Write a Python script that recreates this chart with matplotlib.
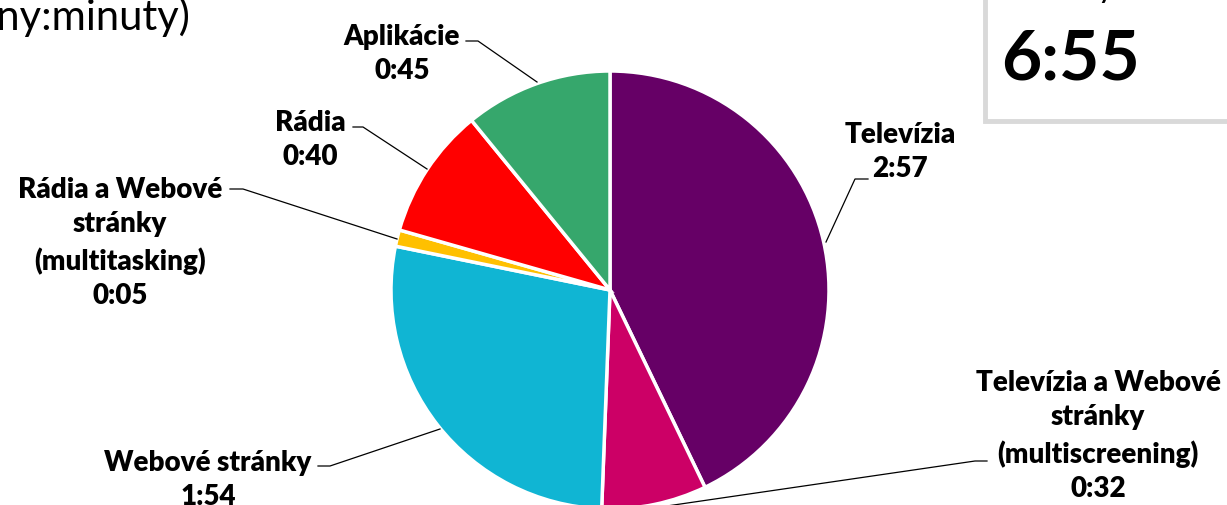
import matplotlib.pyplot as plt
from matplotlib.patches import Rectangle

plt.rcParams['font.family'] = ['Lato', 'DejaVu Sans']

W, H = 1227, 506

# data (minutes per day)
categories = ['Televízia', 'Televízia a Webové\nstránky\n(multiscreening)', 'Webové stránky',
              'Rádia a Webové\nstránky\n(multitasking)', 'Rádia', 'Aplikácie']
minutes = [177, 32, 114, 5, 40, 45]
colors = ['#660066', '#cc0066', '#10b5d3', '#ffc000', '#ff0000', '#36a76c']
total_label = '6:55'

# label layout in pixels: text block centre (x, y), leader points
label_pos = [
    (900, 152, [(868, 180), (855, 180), (826, 243)]),
    (1098, 436, [(987, 462), (975, 462), (660, 508)]),
    (208, 480, [(318, 467), (330, 467), (440, 430)]),
    (120, 243, [(230, 190), (243, 190), (397, 240)]),
    (310, 140, [(353, 128), (363, 128), (427, 170)]),
    (402, 54, [(466, 42), (478, 42), (537, 83)]),
]


def hm(m):
    return '%d:%02d' % (m // 60, m % 60)


fig = plt.figure(figsize=(W / 100, H / 100), dpi=100)
ax = fig.add_axes([0, 0, 1, 1])

ax.pie(minutes, colors=colors, startangle=90, counterclock=False,
       center=(610, H - 291), radius=219,
       wedgeprops=dict(edgecolor='white', linewidth=2.5))
ax.set_aspect('auto')
ax.set_xlim(0, W)
ax.set_ylim(0, H)
ax.axis('off')

for cat, m, (tx, ty, pts) in zip(categories, minutes, label_pos):
    text = cat + '\n' + hm(m)
    ax.text(tx, H - ty, text, ha='center', va='center', fontsize=20, fontweight='heavy',
            linespacing=1.42)
    xs = [p[0] for p in pts]
    ys = [H - p[1] for p in pts]
    ax.plot(xs, ys, color='black', lw=0.9, clip_on=False)

# title fragment at top left (cut off by the frame)
ax.text(190, H - 17, 'Priemerný čas (hodiny:minuty)', ha='right', va='center', fontsize=30)

# total box at top right
ax.add_patch(Rectangle((985, H - 122), 300, 160, facecolor='white', edgecolor='#d9d9d9',
                       linewidth=3.5, clip_on=True))
ax.text(1003, H + 3, 'celkový čas / deň', ha='left', va='baseline', fontsize=24)
ax.text(1001, H - 60, total_label, ha='left', va='center', fontsize=50, fontweight='bold')

fig.savefig('out.png', dpi=100)
